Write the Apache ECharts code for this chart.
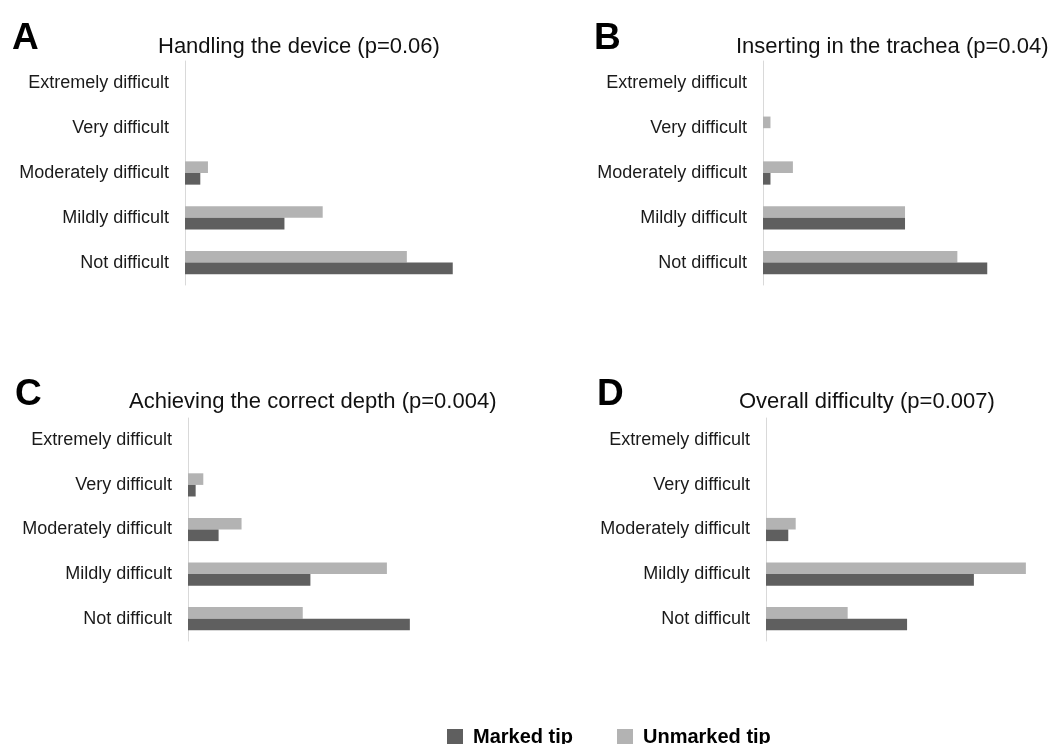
<!DOCTYPE html>
<html>
<head>
<meta charset="utf-8">
<script src="https://cdn.jsdelivr.net/npm/echarts@6/dist/echarts.min.js"></script>
<style>
  html, body { margin: 0; padding: 0; background: #fff; }
  #chart { width: 1063px; height: 744px; }
</style>
</head>
<body>
<div id="chart"></div>
<script>
// categories from bottom to top of each panel
const categories = ["Not difficult", "Mildly difficult", "Moderately difficult", "Very difficult", "Extremely difficult"];
const panelLetters = ["A", "B", "C", "D"];
const panelTitles = [
  "Handling the device (p=0.06)",
  "Inserting in the trachea (p=0.04)",
  "Achieving the correct depth (p=0.004)",
  "Overall difficulty (p=0.007)"
];
const seriesNames = ["Marked tip", "Unmarked tip"];

// number of respondents (n = 50 per group)
const markedA = [35, 13, 2, 0, 0];
const unmarkedA = [29, 18, 3, 0, 0];
const markedB = [30, 19, 1, 0, 0];
const unmarkedB = [26, 19, 4, 1, 0];
const markedC = [29, 16, 4, 1, 0];
const unmarkedC = [15, 26, 7, 2, 0];
const markedD = [19, 28, 3, 0, 0];
const unmarkedD = [11, 35, 4, 0, 0];

const marked = [markedA, markedB, markedC, markedD];
const unmarked = [unmarkedA, unmarkedB, unmarkedC, unmarkedD];

const DARK = "#5f5f5f";
const LIGHT = "#b3b3b3";
const FONT = "Liberation Sans, Arial, sans-serif";

// panel placement
const grids = [
  { left: 185, top: 61, width: 306, height: 224 },
  { left: 763, top: 61, width: 299, height: 224 },
  { left: 188, top: 418, width: 306, height: 223 },
  { left: 766, top: 418, width: 301, height: 223 }
];
const titlePos = [
  { left: 158, top: 36 },
  { left: 736, top: 36 },
  { left: 129, top: 391 },
  { left: 739, top: 391 }
];
const letterPos = [[12, 39], [594, 39], [15, 395], [597, 395]];

const chart = echarts.init(document.getElementById("chart"));

const option = {
  animation: false,
  textStyle: { fontFamily: FONT },
  title: panelTitles.map((t, i) => ({
    text: t,
    left: titlePos[i].left,
    top: titlePos[i].top,
    padding: 0,
    textStyle: { fontSize: 22, fontWeight: "normal", color: "#111", fontFamily: FONT }
  })),
  graphic: panelLetters.map((l, i) => ({
    type: "text",
    left: letterPos[i][0],
    top: letterPos[i][1] - 19,
    style: { text: l, font: "bold 37px " + FONT, fill: "#000" }
  })),
  legend: {
    left: 442,
    top: 722,
    itemWidth: 16,
    itemHeight: 16,
    itemGap: 44,
    icon: "rect",
    data: seriesNames,
    textStyle: { fontSize: 20, fontWeight: "bold", color: "#000", fontFamily: FONT, padding: [0, 0, 0, 5] }
  },
  grid: grids,
  xAxis: grids.map((g, i) => ({
    type: "value",
    gridIndex: i,
    min: 0,
    max: 40,
    axisLine: { show: false },
    axisTick: { show: false },
    axisLabel: { show: false },
    splitLine: { show: false }
  })),
  yAxis: grids.map((g, i) => ({
    type: "category",
    gridIndex: i,
    data: categories,
    axisLine: { show: true, lineStyle: { color: "#d9d9d9", width: 1 } },
    axisTick: { show: false },
    axisLabel: { fontSize: 18, color: "#1a1a1a", margin: 16, fontFamily: FONT }
  })),
  series: []
};

// unmarked first so its bar sits above the marked bar in each category
for (let i = 0; i < 4; i++) {
  option.series.push({
    name: seriesNames[1],
    type: "bar",
    xAxisIndex: i,
    yAxisIndex: i,
    data: unmarked[i],
    itemStyle: { color: LIGHT },
    barGap: "0%",
    barCategoryGap: "48%"
  });
  option.series.push({
    name: seriesNames[0],
    type: "bar",
    xAxisIndex: i,
    yAxisIndex: i,
    data: marked[i],
    itemStyle: { color: DARK },
    barGap: "0%",
    barCategoryGap: "48%"
  });
}

chart.setOption(option);
</script>
</body>
</html>
